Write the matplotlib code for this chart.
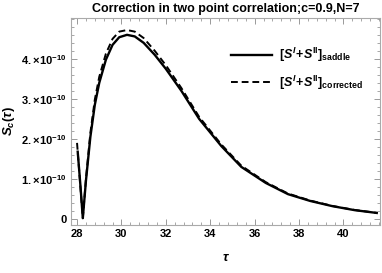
import matplotlib.pyplot as plt
from matplotlib.ticker import MultipleLocator, FixedLocator

# data (values in units of 1e-10)
tau_saddle = [28.03, 28.15, 28.26, 28.4, 28.6, 28.8, 29.0, 29.3, 29.6, 29.9, 30.25, 30.6,
              31.0, 31.5, 32.0, 32.7, 33.5, 34.5, 35.4, 36.5, 37.5, 38.5, 39.5, 40.5, 41.5]
s_saddle = [1.68, 0.85, 0.02, 0.95, 2.05, 2.85, 3.4, 3.98, 4.35, 4.54, 4.6, 4.56,
            4.4, 4.1, 3.75, 3.2, 2.5, 1.82, 1.3, 0.9, 0.62, 0.45, 0.32, 0.22, 0.15]

tau_corr = [28.0, 28.13, 28.26, 28.4, 28.6, 28.8, 29.0, 29.3, 29.6, 29.9, 30.25, 30.6,
            31.0, 31.5, 32.0, 32.7, 33.5, 34.5, 35.4, 36.5, 37.5, 38.5, 39.5, 40.5, 41.5]
s_corr = [1.9, 0.95, 0.02, 1.0, 2.15, 2.98, 3.55, 4.13, 4.5, 4.68, 4.72, 4.68,
          4.52, 4.2, 3.84, 3.27, 2.55, 1.86, 1.33, 0.92, 0.635, 0.46, 0.325, 0.225, 0.152]

x_ticks = [28, 30, 32, 34, 36, 38, 40]
y_ticks = [0, 1, 2, 3, 4]
y_labels = ['0'] + [r'$%d.\!\times\!10^{-10}$' % v for v in y_ticks[1:]]

plt.rcParams['font.family'] = ['Liberation Sans', 'DejaVu Sans']
plt.rcParams['font.weight'] = 'bold'
plt.rcParams['mathtext.fontset'] = 'custom'
plt.rcParams['mathtext.rm'] = 'Liberation Sans:bold'
plt.rcParams['mathtext.it'] = 'Liberation Sans:italic:bold'
plt.rcParams['mathtext.bf'] = 'Liberation Sans:bold'

fig = plt.figure(figsize=(3.82, 2.73), dpi=100)
ax = fig.add_axes([0.186, 0.176, 0.809, 0.758])

ax.plot(tau_saddle, [v * 1e-10 for v in s_saddle], color='black', lw=1.7,
        label=r'$[S^{I}\!+\!S^{\mathrm{II}}]_{\mathrm{saddle}}$')
ax.plot(tau_corr, [v * 1e-10 for v in s_corr], color='black', lw=1.4, dashes=(3.5, 2),
        label=r'$[S^{I}\!+\!S^{\mathrm{II}}]_{\mathrm{corrected}}$')

ax.set_xlim(27.73, 41.65)
ax.set_ylim(-0.15e-10, 5.02e-10)

ax.xaxis.set_major_locator(FixedLocator(x_ticks))
ax.xaxis.set_minor_locator(MultipleLocator(0.4))
ax.yaxis.set_major_locator(FixedLocator([v * 1e-10 for v in y_ticks]))
ax.yaxis.set_minor_locator(MultipleLocator(0.2e-10))
ax.set_yticklabels(y_labels)
ax.set_xticklabels([str(v) for v in x_ticks])

ax.tick_params(which='both', direction='in', top=True, right=True, color='#999999',
               labelsize=8, pad=3)
ax.tick_params(which='major', length=4, width=0.7)
ax.tick_params(which='minor', length=2, width=0.6)
for s in ax.spines.values():
    s.set_color('#aaaaaa')
    s.set_linewidth(0.8)

ax.set_title('Correction in two point correlation;c=0.9,N=7', fontsize=9,
             fontweight='bold', pad=4)
ax.set_xlabel(r'$\tau$', fontsize=9.5, labelpad=9)
ax.set_ylabel(r'$S_c(\tau)$', fontsize=9.5, labelpad=3)

ax.legend(loc='upper left', bbox_to_anchor=(0.5, 0.89), frameon=False, fontsize=9,
          handlelength=3.3, handletextpad=0.6, labelspacing=0.75, borderaxespad=0)

fig.savefig('out.png', dpi=100)
